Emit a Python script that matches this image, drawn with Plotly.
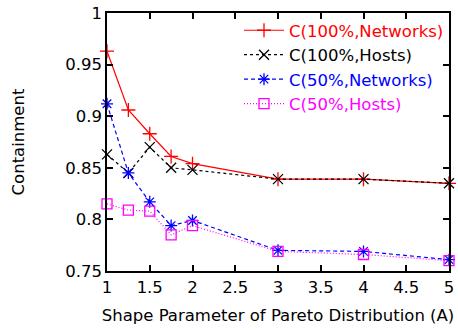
import plotly.graph_objects as go

x_vals = [1, 1.25, 1.5, 1.75, 2, 3, 4, 5]
c100_networks = [0.963, 0.906, 0.883, 0.861, 0.854, 0.839, 0.839, 0.835]
c100_hosts = [0.863, 0.845, 0.870, 0.850, 0.848, 0.839, 0.839, 0.835]
c50_networks = [0.912, 0.845, 0.817, 0.794, 0.799, 0.770, 0.769, 0.761]
c50_hosts = [0.815, 0.809, 0.808, 0.785, 0.794, 0.769, 0.766, 0.760]

series_names = ["C(100%,Networks)", "C(100%,Hosts)", "C(50%,Networks)", "C(50%,Hosts)"]
series_values = [c100_networks, c100_hosts, c50_networks, c50_hosts]
colors = ["#ff0000", "#000000", "#0000ff", "#ff00ff"]
dashes = ["solid", "3px,3px", "4px,3px", "1px,2px"]
symbols = ["cross-thin-open", "x-thin-open", "asterisk-open", "square-open"]

x_ticks = [1, 1.5, 2, 2.5, 3, 3.5, 4, 4.5, 5]
x_tick_labels = ["1", "1.5", "2", "2.5", "3", "3.5", "4", "4.5", "5"]
y_ticks = [0.75, 0.8, 0.85, 0.9, 0.95, 1]
y_tick_labels = ["0.75", "0.8", "0.85", "0.9", "0.95", "1"]

FONT = "DejaVu Sans, sans-serif"
FS = 16.5

fig = go.Figure()
for name, vals, col, dash, sym in zip(series_names, series_values, colors, dashes, symbols):
    fig.add_trace(go.Scatter(
        x=x_vals, y=vals, mode="lines+markers", cliponaxis=False,
        name=f"<span style='color:{col}'>{name}</span>",
        line=dict(color=col, width=1.2, dash=dash),
        marker=dict(symbol=sym, size=10, color=col, line=dict(color=col, width=1.3)),
    ))

fig.update_layout(
    width=458, height=332,
    margin=dict(l=107, r=9, t=13, b=61),
    plot_bgcolor="white", paper_bgcolor="white",
    font=dict(family=FONT, size=FS, color="black"),
    legend=dict(
        x=1.0, y=1.0, xanchor="right", yanchor="top",
        bgcolor="rgba(0,0,0,0)", font=dict(size=FS),
        tracegroupgap=0, itemwidth=40,
    ),
)
fig.update_xaxes(
    range=[1, 5], tickvals=x_ticks, ticktext=x_tick_labels,
    ticks="inside", ticklen=6, tickwidth=1.5, tickcolor="black",
    showline=True, linecolor="black", linewidth=1.5, mirror="ticks",
    showgrid=False, zeroline=False, automargin=False,
    title=dict(text="Shape Parameter of Pareto Distribution (A)", font=dict(size=FS), standoff=14),
    tickfont=dict(size=FS),
)
fig.update_yaxes(
    range=[0.75, 1], tickvals=y_ticks, ticktext=y_tick_labels,
    ticks="inside", ticklen=6, tickwidth=1.5, tickcolor="black",
    showline=True, linecolor="black", linewidth=1.5, mirror="ticks",
    showgrid=False, zeroline=False, automargin=False,
    title=dict(text="Containment", font=dict(size=FS), standoff=36),
    tickfont=dict(size=FS),
)

fig.write_html("out.html", config={"displayModeBar": False},
               post_script="document.body.style.margin='0';")
